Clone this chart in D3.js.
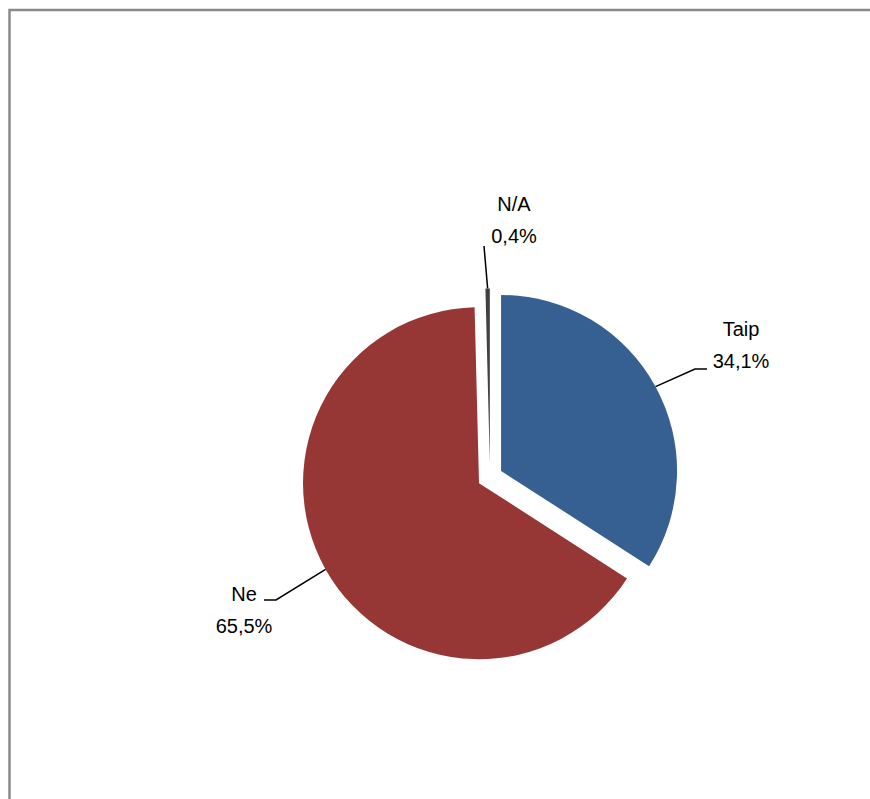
<!DOCTYPE html>
<html>
<head>
<meta charset="utf-8">
<script src="https://cdn.jsdelivr.net/npm/d3@7"></script>
<style>
  body { margin: 0; background: #fff; }
  svg { display: block; }
</style>
</head>
<body>
<svg id="chart"></svg>
<script>
const categories = ["Taip", "Ne", "N/A"];
const values = [34.1, 65.5, 0.4];
const valueLabels = ["34,1%", "65,5%", "0,4%"];

const width = 870;
const height = 799;
const cx = 490, cy = 477;
const radius = 176;
const explode = 12.6;
const colors = ["#376092", "#963735", "#404040"];

let svg = d3.select("#chart")
    .attr("width", width)
    .attr("height", height);

// chart frame
svg.append("rect")
    .attr("x", 9.5)
    .attr("y", 10)
    .attr("width", 1000)
    .attr("height", 1000)
    .attr("fill", "none")
    .attr("stroke", "#8a8a8a")
    .attr("stroke-width", 2.5);

const data = categories.map((c, i) => ({ name: c, value: values[i], label: valueLabels[i], color: colors[i] }));

let pie = d3.pie().sort(null).value(d => d.value);
let arc = d3.arc().innerRadius(0).outerRadius(radius);
let arcs = pie(data);

let g = svg.append("g").attr("transform", `translate(${cx},${cy})`);

const offset = (d) => {
    const a = (d.startAngle + d.endAngle) / 2;
    return [Math.sin(a) * explode, -Math.cos(a) * explode];
};

g.selectAll("path")
    .data(arcs)
    .enter()
    .append("path")
    .attr("d", arc)
    .attr("fill", d => d.data.color)
    .attr("transform", d => `translate(${offset(d)})`);

// labels: elbow and text position per slice
const labelLayout = [
    { elbow: [695, 369], end: [707, 369], text: [741, 336], anchor: "middle" },
    { elbow: [276, 600], end: [264, 600], text: [244, 601], anchor: "middle" },
    { elbow: null, end: [484, 246], text: [514, 211], anchor: "middle" }
];

arcs.forEach((d, i) => {
    const a = (d.startAngle + d.endAngle) / 2;
    const o = offset(d);
    const p0 = [cx + o[0] + Math.sin(a) * radius, cy + o[1] - Math.cos(a) * radius];
    const L = labelLayout[i];
    const pts = L.elbow ? [p0, L.elbow, L.end] : [p0, L.end];
    svg.append("path")
        .attr("d", d3.line()(pts))
        .attr("fill", "none")
        .attr("stroke", "#000")
        .attr("stroke-width", 1.5);

    let t = svg.append("text")
        .attr("x", L.text[0])
        .attr("y", L.text[1])
        .attr("text-anchor", L.anchor)
        .attr("font-family", "'Liberation Sans', Arial, sans-serif")
        .attr("font-size", "20px")
        .attr("fill", "#000");
    t.append("tspan").attr("x", L.text[0]).attr("dy", 0).text(d.data.name);
    t.append("tspan").attr("x", L.text[0]).attr("dy", 32).text(d.data.label);
});
</script>
</body>
</html>
